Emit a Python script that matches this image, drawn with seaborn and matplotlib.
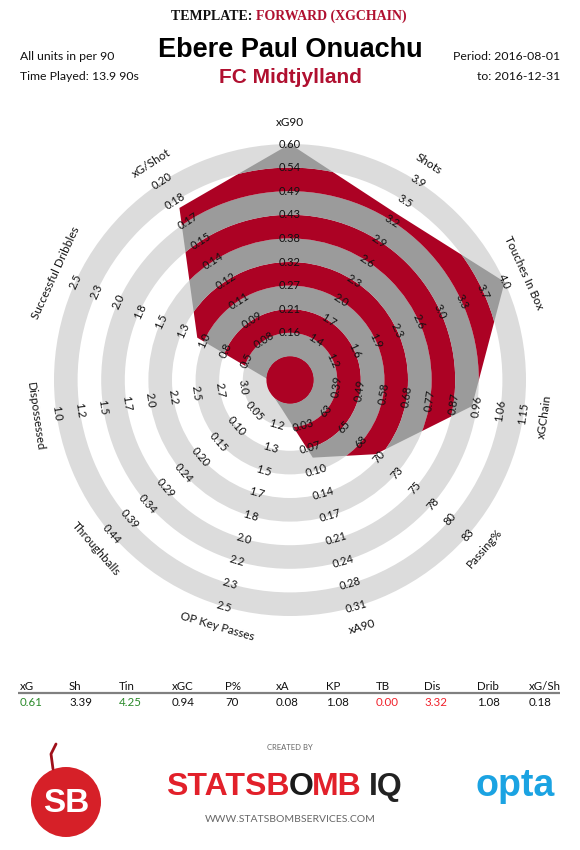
import numpy as np
import matplotlib
matplotlib.use("Agg")
import matplotlib.pyplot as plt
import seaborn as sns
from matplotlib.patches import Circle

# ---------------- data ----------------
metrics = ["xG90", "Shots", "Touches In Box", "xGChain", "Passing%", "xA90",
           "OP Key Passes", "Throughballs", "Dispossessed", "Successful Dribbles", "xG/Shot"]
player_values = [0.61, 3.39, 4.25, 0.94, 70, 0.08, 1.08, 0.00, 3.32, 1.08, 0.18]

ticks_xg90 = ["0.16", "0.21", "0.27", "0.32", "0.38", "0.43", "0.49", "0.54", "0.60"]
ticks_shots = ["1.4", "1.7", "2.0", "2.3", "2.6", "2.9", "3.2", "3.5", "3.9"]
ticks_tib = ["1.2", "1.6", "1.9", "2.3", "2.6", "3.0", "3.3", "3.7", "4.0"]
ticks_xgchain = ["0.39", "0.49", "0.58", "0.68", "0.77", "0.87", "0.96", "1.06", "1.15"]
ticks_pass = ["63", "65", "68", "70", "73", "75", "78", "80", "83"]
ticks_xa90 = ["0.03", "0.07", "0.10", "0.14", "0.17", "0.21", "0.24", "0.28", "0.31"]
ticks_kp = ["1.2", "1.3", "1.5", "1.7", "1.8", "2.0", "2.2", "2.3", "2.5"]
ticks_tb = ["0.05", "0.10", "0.15", "0.20", "0.24", "0.29", "0.34", "0.39", "0.44"]
ticks_dis = ["3.0", "2.7", "2.5", "2.2", "2.0", "1.7", "1.5", "1.2", "1.0"]
ticks_drib = ["0.5", "0.8", "1.0", "1.3", "1.5", "1.8", "2.0", "2.3", "2.5"]
ticks_xgshot = ["0.08", "0.09", "0.11", "0.12", "0.14", "0.15", "0.17", "0.18", "0.20"]
tick_labels = [ticks_xg90, ticks_shots, ticks_tib, ticks_xgchain, ticks_pass, ticks_xa90,
               ticks_kp, ticks_tb, ticks_dis, ticks_drib, ticks_xgshot]

table_headers = ["xG", "Sh", "Tin", "xGC", "P%", "xA", "KP", "TB", "Dis", "Drib", "xG/Sh"]
table_values = ["0.61", "3.39", "4.25", "0.94", "70", "0.08", "1.08", "0.00", "3.32", "1.08", "0.18"]
table_flags = ["good", "", "good", "", "", "", "", "bad", "bad", "", ""]

player = "Ebere Paul Onuachu"
team = "FC Midtjylland"
template = "FORWARD (XGCHAIN)"
units_text = "All units in per 90"
played_text = "Time Played: 13.9 90s"
period_text = "Period: 2016-08-01"
to_text = "to: 2016-12-31"

# ---------------- style ----------------
sns.set_theme(style="white")
plt.rcParams["font.family"] = ["Lato", "DejaVu Sans"]

RED = "#AC0224"
DGRAY = "#9B9B9B"
LGRAY = "#DCDCDC"
TITLE_RED = "#B01030"
flag_colors = {"good": "#2A8A2A", "bad": "#F0202A", "": "#111111"}

W, H = 580, 850
fig = plt.figure(figsize=(W / 100, H / 100), dpi=100)
fig.patch.set_facecolor("white")

# overlay axes in pixel coordinates for header / footer
ov = fig.add_axes([0, 0, 1, 1])
ov.set_xlim(0, W)
ov.set_ylim(H, 0)
ov.axis("off")

# ---------------- radar ----------------
cx, cy, unit = 290, 380, 23.6
rmax = 11.6
half = rmax * unit
ax = fig.add_axes([(cx - half) / W, (H - cy - half) / H, 2 * half / W, 2 * half / H],
                  projection="polar")
ax.set_theta_zero_location("N")
ax.set_theta_direction(-1)
ax.set_ylim(0, rmax)
ax.axis("off")

n = len(metrics)
theta = np.arange(n) * 2 * np.pi / n


def to_radius(v, ticks):
    lo, hi = float(ticks[0]), float(ticks[-1])
    return float(np.clip(2 + (v - lo) / (hi - lo) * 8, 0, 10))


radii = [to_radius(v, t) for v, t in zip(player_values, tick_labels)]

# outside rings (light gray / white)
for k in range(1, 10, 2):
    ax.bar(0, 1, width=2 * np.pi, bottom=k, color=LGRAY, edgecolor="none", zorder=1)

# polygon and clipped red / gray bands
poly = ax.fill(np.r_[theta, theta[0]], np.r_[radii, radii[0]],
               facecolor="none", edgecolor="none", zorder=2)[0]
for k in range(10):
    bars = ax.bar(0, 1, width=2 * np.pi, bottom=k,
                  color=RED if k % 2 == 0 else DGRAY, edgecolor="none", zorder=3)
    for p in bars:
        p.set_clip_path(poly)

# center disk
ax.bar(0, 1, width=2 * np.pi, bottom=0, color=RED, edgecolor="none", zorder=4)


def tangential_rotation(deg):
    rot = -deg
    if 90 < deg < 270:
        rot += 180
    return rot


for i in range(n):
    deg = np.degrees(theta[i])
    rot = tangential_rotation(deg)
    for j, lab in enumerate(tick_labels[i]):
        ax.text(theta[i], 2 + j, lab, rotation=rot, rotation_mode="anchor",
                ha="center", va="center", fontsize=8, color="#111111", zorder=10)
    ax.text(theta[i], 10.9, metrics[i], rotation=rot, rotation_mode="anchor",
            ha="center", va="center", fontsize=8.5, color="#111111", zorder=10)

# ---------------- header ----------------
ov.text(256, 16, "TEMPLATE: ", ha="right", va="center", fontsize=10,
        family="Liberation Serif", fontweight="bold", color="#111111")
ov.text(256, 16, template, ha="left", va="center", fontsize=10,
        family="Liberation Serif", fontweight="bold", color=TITLE_RED)
ov.text(290, 50, player, ha="center", va="center", fontsize=19.5,
        family="Liberation Sans", fontweight="bold", color="#000000")
ov.text(290, 77, team, ha="center", va="center", fontsize=15,
        family="Liberation Sans", fontweight="bold", color=TITLE_RED)
ov.text(20, 56, units_text, ha="left", va="center", fontsize=8.8, color="#111111")
ov.text(20, 76, played_text, ha="left", va="center", fontsize=8.8, color="#111111")
ov.text(560, 56, period_text, ha="right", va="center", fontsize=8.8, color="#111111")
ov.text(560, 76, to_text, ha="right", va="center", fontsize=8.8, color="#111111")

# ---------------- table ----------------
col_x = [20, 69, 119, 172, 225, 276, 326, 376, 424, 477, 529]
for x, hdr, val, fl in zip(col_x, table_headers, table_values, table_flags):
    ov.text(x, 686, hdr, ha="left", va="center", fontsize=8.3, color="#111111")
    ov.text(x, 702, val, ha="left", va="center", fontsize=8.3, color=flag_colors[fl])
ov.plot([18, 560], [693, 693], color="#808080", lw=1.6, solid_capstyle="butt")

# ---------------- footer ----------------
ov.text(290, 747, "CREATED BY", ha="center", va="center", fontsize=5.5, color="#666666")
renderer = fig.canvas.get_renderer()
inv = ov.transData.inverted()
x_cur = 166
for part, col in [("STATSB", "#E2202A"), ("O", "#1A1A1A"), ("MB", "#E2202A")]:
    t = ov.text(x_cur, 787, part, ha="left", va="center", fontsize=23,
                family="Liberation Sans", fontweight="bold", color=col)
    bb = t.get_window_extent(renderer=renderer)
    x_cur = inv.transform((bb.x1, bb.y0))[0] - 1
ov.text(x_cur + 8, 787, "IQ", ha="left", va="center", fontsize=23,
        family="Liberation Sans", fontweight="bold", color="#222222")
ov.text(290, 819, "WWW.STATSBOMBSERVICES.COM", ha="center", va="center",
        fontsize=7.5, color="#666666")
ov.text(515, 786, "opta", ha="center", va="center", fontsize=27,
        family="Liberation Sans", fontweight="bold", color="#1BA3E2")
ov.add_patch(Circle((66, 802), 35, facecolor="#D62028", edgecolor="none"))
ov.plot([53, 51, 56], [769, 754, 744], color="#A0101A", lw=2)
ov.text(66, 804, "SB", ha="center", va="center", fontsize=24,
        family="Liberation Sans", fontweight="bold", color="white")

fig.savefig("out.png", dpi=100, facecolor="white")
